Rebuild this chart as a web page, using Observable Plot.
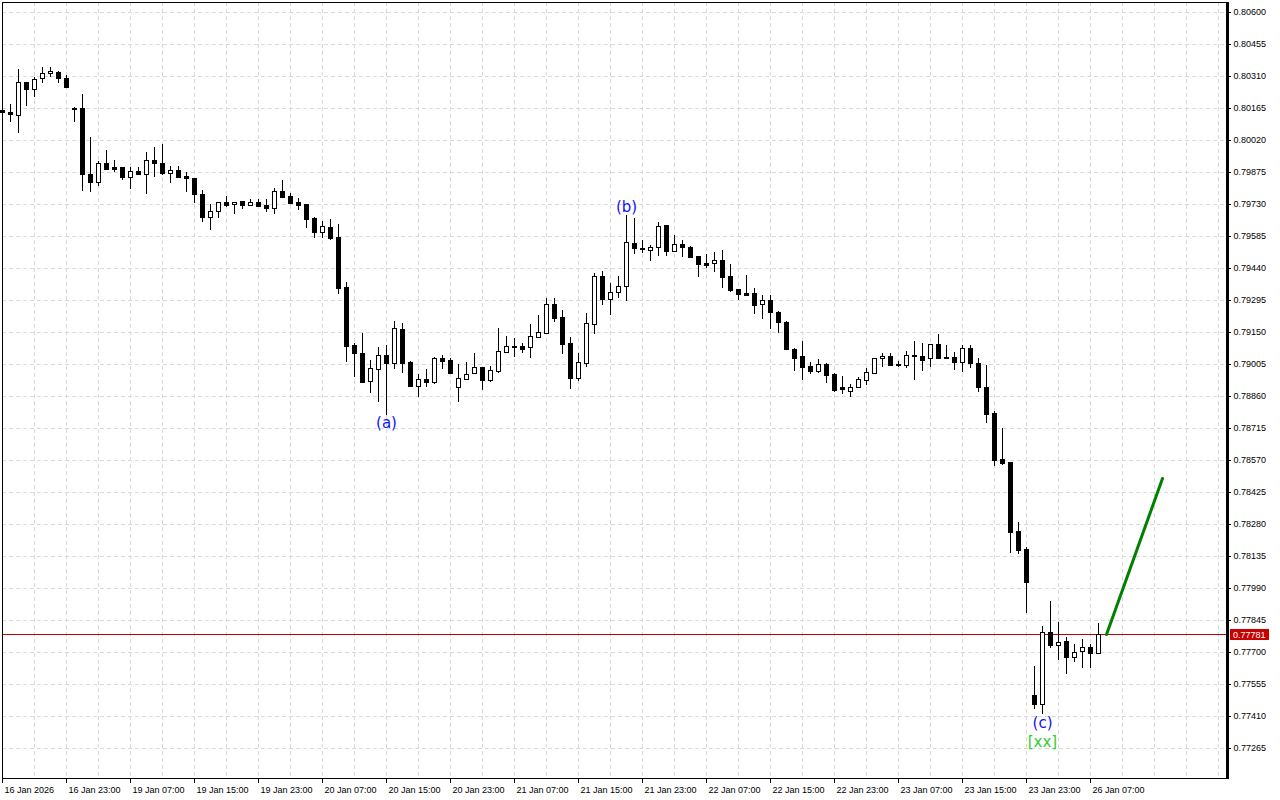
<!DOCTYPE html>
<html><head><meta charset="utf-8">
<script src="https://cdn.jsdelivr.net/npm/d3@7"></script>
<script src="https://cdn.jsdelivr.net/npm/@observablehq/plot@0.6"></script>
<style>html,body{margin:0;padding:0;background:#fff;overflow:hidden}</style>
</head><body><div id="chart"></div>
<script>
// Hourly candles, 16 Jan 2026 15:00 .. 26 Jan 2026 08:00 (index 0..137)
const open = [0.80156,0.80148,0.80132,0.80281,0.80252,0.80300,0.80322,0.80327,0.80300,0.80164,
0.80164,0.79865,0.79828,0.79914,0.79898,0.79896,0.79854,0.79878,0.79865,0.79929,
0.79914,0.79869,0.79883,0.79857,0.79846,0.79777,0.79672,0.79697,0.79739,0.79729,
0.79742,0.79727,0.79738,0.79725,0.79711,0.79788,0.79765,0.79739,0.79731,0.79668,
0.79604,0.79626,0.79580,0.79354,0.79091,0.79055,0.78927,0.78984,0.79046,0.79011,
0.79162,0.79014,0.78907,0.78936,0.78925,0.79032,0.79023,0.78899,0.78938,0.78963,
0.78991,0.78934,0.78975,0.79061,0.79083,0.79087,0.79081,0.79129,0.79147,0.79277,
0.79218,0.79100,0.78943,0.79011,0.79188,0.79404,0.79298,0.79330,0.79357,0.79552,
0.79531,0.79520,0.79534,0.79634,0.79516,0.79547,0.79534,0.79493,0.79461,0.79461,
0.79475,0.79402,0.79344,0.79325,0.79325,0.79276,0.79294,0.79242,0.79195,0.79074,
0.79040,0.78996,0.78975,0.79006,0.78961,0.78899,0.78884,0.78899,0.78934,0.78966,
0.79031,0.79041,0.79006,0.78999,0.79047,0.79041,0.79034,0.79096,0.79035,0.79037,
0.79015,0.79078,0.79010,0.78901,0.78783,0.78575,0.78561,0.78248,0.78167,0.77505,
0.77463,0.77789,0.77730,0.77748,0.77676,0.77703,0.77721,0.77694];
const high = [0.80160,0.80183,0.80342,0.80284,0.80307,0.80352,0.80352,0.80331,0.80313,0.80171,
0.80230,0.80032,0.79925,0.79975,0.79929,0.79898,0.79896,0.79896,0.79966,0.79987,
0.80002,0.79902,0.79902,0.79874,0.79848,0.79793,0.79729,0.79740,0.79766,0.79740,
0.79744,0.79751,0.79751,0.79751,0.79801,0.79839,0.79779,0.79756,0.79732,0.79669,
0.79652,0.79662,0.79639,0.79375,0.79099,0.79144,0.79022,0.79083,0.79091,0.79200,
0.79192,0.79017,0.78960,0.78982,0.79038,0.79047,0.79031,0.79006,0.79014,0.79055,
0.78993,0.78996,0.79168,0.79132,0.79123,0.79100,0.79186,0.79227,0.79305,0.79305,
0.79250,0.79129,0.79055,0.79236,0.79417,0.79425,0.79372,0.79404,0.79680,0.79665,
0.79567,0.79544,0.79648,0.79636,0.79590,0.79567,0.79541,0.79494,0.79502,0.79511,
0.79520,0.79458,0.79345,0.79407,0.79348,0.79318,0.79318,0.79243,0.79198,0.79076,
0.79111,0.79015,0.79029,0.79008,0.78962,0.78951,0.78913,0.78947,0.78986,0.79032,
0.79054,0.79054,0.79020,0.79064,0.79111,0.79099,0.79097,0.79141,0.79091,0.79061,
0.79091,0.79091,0.79031,0.79000,0.78792,0.78714,0.78562,0.78289,0.78174,0.77637,
0.77818,0.77931,0.77835,0.77767,0.77736,0.77758,0.77736,0.77831];
const low = [0.80142,0.80103,0.80053,0.80175,0.80216,0.80280,0.80304,0.80280,0.80260,0.80103,
0.79790,0.79786,0.79810,0.79883,0.79876,0.79839,0.79799,0.79863,0.79777,0.79854,
0.79861,0.79825,0.79846,0.79786,0.79735,0.79650,0.79612,0.79668,0.79718,0.79686,
0.79709,0.79722,0.79718,0.79692,0.79686,0.79762,0.79731,0.79704,0.79623,0.79577,
0.79577,0.79567,0.79324,0.79014,0.78947,0.78924,0.78875,0.78834,0.78774,0.78982,
0.78963,0.78902,0.78854,0.78902,0.78913,0.78982,0.78960,0.78834,0.78932,0.78962,
0.78887,0.78925,0.78962,0.79056,0.79038,0.79056,0.79034,0.79126,0.79140,0.79194,
0.79052,0.78893,0.78928,0.78993,0.79142,0.79274,0.79228,0.79303,0.79292,0.79502,
0.79507,0.79470,0.79496,0.79493,0.79514,0.79491,0.79489,0.79398,0.79441,0.79423,
0.79348,0.79333,0.79294,0.79315,0.79233,0.79210,0.79165,0.79144,0.79070,0.78975,
0.78934,0.78958,0.78963,0.78920,0.78877,0.78870,0.78857,0.78898,0.78910,0.78958,
0.78993,0.78999,0.78993,0.78988,0.78932,0.78975,0.78993,0.79033,0.79026,0.78978,
0.78970,0.78986,0.78880,0.78739,0.78544,0.78549,0.78150,0.78145,0.77878,0.77443,
0.77419,0.77720,0.77665,0.77602,0.77656,0.77629,0.77629,0.77693];
const close = [0.80147,0.80136,0.80281,0.80252,0.80295,0.80322,0.80331,0.80300,0.80262,0.80162,
0.79865,0.79828,0.79914,0.79890,0.79890,0.79854,0.79878,0.79865,0.79929,0.79914,
0.79869,0.79883,0.79854,0.79846,0.79777,0.79672,0.79697,0.79738,0.79727,0.79738,
0.79727,0.79738,0.79722,0.79713,0.79788,0.79763,0.79736,0.79727,0.79663,0.79604,
0.79629,0.79577,0.79351,0.79088,0.79054,0.78925,0.78986,0.79044,0.79011,0.79167,
0.79011,0.78905,0.78936,0.78925,0.79031,0.79020,0.78966,0.78940,0.78960,0.78990,
0.78934,0.78976,0.79063,0.79087,0.79087,0.79074,0.79132,0.79149,0.79276,0.79215,
0.79097,0.78943,0.79013,0.79189,0.79402,0.79301,0.79330,0.79357,0.79556,0.79529,
0.79527,0.79534,0.79629,0.79516,0.79547,0.79534,0.79491,0.79457,0.79455,0.79475,
0.79398,0.79342,0.79321,0.79319,0.79274,0.79294,0.79239,0.79194,0.79072,0.79034,
0.78993,0.78975,0.79005,0.78954,0.78887,0.78893,0.78899,0.78936,0.78967,0.79031,
0.79041,0.79002,0.78999,0.79047,0.79041,0.79024,0.79096,0.79034,0.79032,0.79015,
0.79078,0.79011,0.78902,0.78780,0.78571,0.78558,0.78245,0.78164,0.78019,0.77463,
0.77792,0.77730,0.77747,0.77676,0.77701,0.77721,0.77694,0.77781];

const yTicks = [0.80600,0.80455,0.80310,0.80165,0.80020,0.79875,0.79730,0.79585,0.79440,0.79295,
0.79150,0.79005,0.78860,0.78715,0.78570,0.78425,0.78280,0.78135,0.77990,0.77845,
0.77700,0.77555,0.77410,0.77265];
const xTickIdx = [0,8,16,24,32,40,48,56,64,72,80,88,96,104,112,120,128,136];
const xTickLabels = ["16 Jan 2026","16 Jan 23:00","19 Jan 07:00","19 Jan 15:00","19 Jan 23:00",
"20 Jan 07:00","20 Jan 15:00","20 Jan 23:00","21 Jan 07:00","21 Jan 15:00","21 Jan 23:00",
"22 Jan 07:00","22 Jan 15:00","22 Jan 23:00","23 Jan 07:00","23 Jan 15:00","23 Jan 23:00","26 Jan 07:00"];
const waveLabels = ["(a)","(b)","(c)","[xx]"];
const waveIdx = [48,78,130,130];
const wavePrice = [0.78738,0.79716,0.77378,0.77290];
const waveColors = ["#1010ff","#1010ff","#1010ff","#32cd32"];
const projIdx = [138,145];
const projPrice = [0.77781,0.78487];
const currentPrice = 0.77781;

const candles = open.map((o,i)=>({i, open:o, high:high[i], low:low[i], close:close[i]}));
const xticks = xTickIdx.map((i,k)=>({i, label:xTickLabels[k]}));
const waves = waveLabels.map((t,k)=>({i:waveIdx[k], y:wavePrice[k], text:t, color:waveColors[k]}));
const proj = projIdx.map((i,k)=>({i, y:projPrice[k]}));
const gridIdx = d3.range(0, 153, 4);
const FONT = "'Liberation Sans', Arial, sans-serif";

const chart = Plot.plot({
  width:1280, height:800,
  marginLeft:2, marginRight:54, marginTop:2, marginBottom:22,
  style:{background:"#fff", fontFamily:FONT, fontSize:"9px", color:"#000"},
  color:{type:"identity"},
  x:{domain:[0,153], axis:"bottom", ticks:xTickIdx, tickSize:5, tickFormat:()=>"", label:null},
  y:{domain:[0.771290625,0.806453125], round:true, axis:"right", ticks:yTicks, tickSize:4, tickPadding:3, tickFormat:d=>d.toFixed(5), label:null},
  marks:[
    Plot.ruleY(yTicks, {stroke:"#d9d9d9", strokeDasharray:"4,3"}),
    Plot.ruleX(gridIdx, {stroke:"#d9d9d9", strokeDasharray:"4,3"}),
    Plot.ruleY([currentPrice], {stroke:"#c00000"}),
    Plot.ruleX(candles, {x:"i", y1:"low", y2:"high", stroke:"#000"}),
    Plot.rect(candles, {x1:d=>d.i-0.25, x2:d=>d.i+0.25, y1:"open", y2:"close",
      fill:d=>d.close>d.open?"#fff":"#000", stroke:"#000", dx:0.5, dy:0.5}),
    Plot.line(proj, {x:"i", y:"y", stroke:"#008000", strokeWidth:3}),
    Plot.text(waves, {x:"i", y:"y", text:"text", fill:d=>d.color, fontSize:15, fontFamily:"DejaVu Sans"}),
    Plot.text(xticks, {x:"i", text:"label", frameAnchor:"bottom", textAnchor:"start", dx:2, dy:14}),
    Plot.frame({stroke:"#000"})
  ]
});

const svg = d3.select(chart);
const xs = chart.scale("x"), ys = chart.scale("y");
const right = xs.range[1];
svg.append("line").attr("x1", right+1.5).attr("x2", right+1.5)
  .attr("y1", ys.range[1]).attr("y2", ys.range[0]+1)
  .attr("stroke","#000").attr("stroke-width",3);
const yc = ys.apply(currentPrice);
svg.append("rect").attr("x", right+4).attr("y", yc-5).attr("width",39).attr("height",11).attr("fill","#c80000");
svg.append("text").attr("x", right+7).attr("y", yc+0.5).attr("dy","0.35em")
  .attr("text-anchor","start")
  .attr("fill","#fff").attr("font-family",FONT).attr("font-size","9px").text(currentPrice.toFixed(5));
document.getElementById("chart").appendChild(chart);
</script>
</body></html>
